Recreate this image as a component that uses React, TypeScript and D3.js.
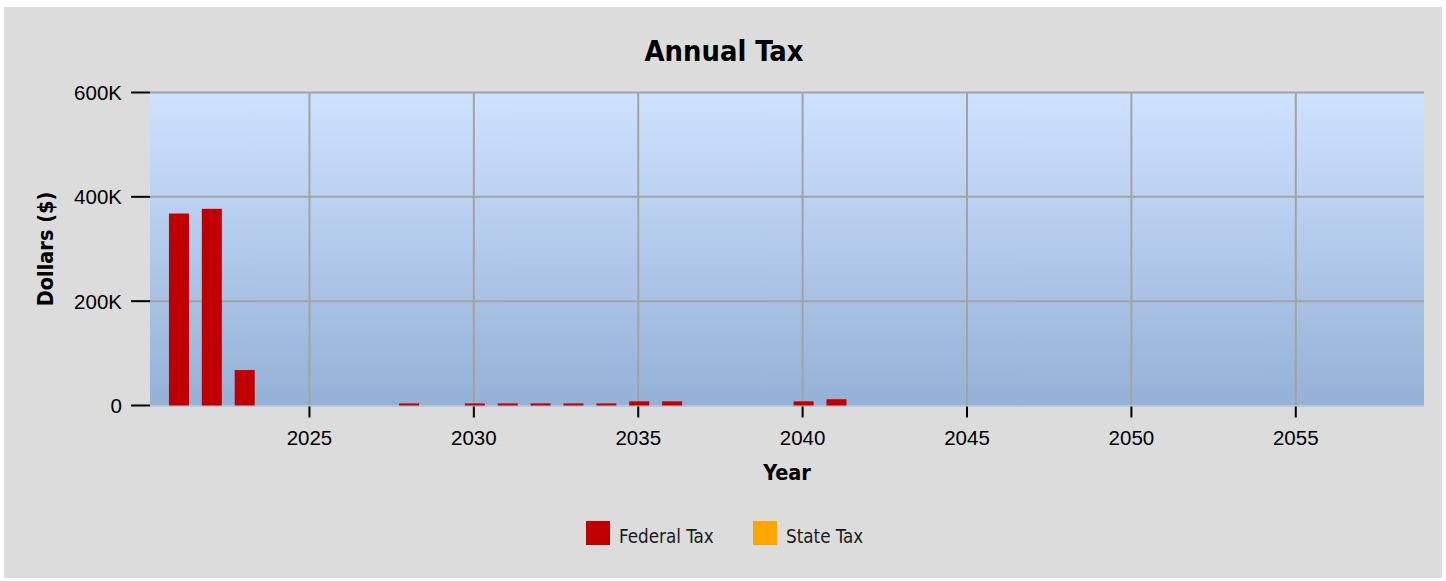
import React from "react";
import * as d3 from "d3";

const years: number[] = d3.range(2021, 2059);
const federalTaxK: number[] = [
  368, 377, 68, 0, 0, 0, 0, 4, 0, 4, 4, 4, 4, 4, 8, 8, 0, 0, 0, 8, 12,
  0, 0, 0, 0, 0, 0, 0, 0, 0, 0, 0, 0, 0, 0, 0, 0, 0,
];
const stateTaxK: number[] = years.map(() => 0);
const yTicks: number[] = [0, 200, 400, 600];
const xTicks: number[] = [2025, 2030, 2035, 2040, 2045, 2050, 2055];
const seriesNames = ["Federal Tax", "State Tax"];
const seriesColors = ["#c00000", "#ffa500"];

const W = 1446;
const H = 581;
const plot = { left: 150, right: 1424, top: 92.5, bottom: 405.5 };
const condensed = "'DejaVu Sans Condensed', 'DejaVu Sans', sans-serif";
const arial = "'Liberation Sans', Arial, sans-serif";

export default function App() {
  const x = d3.scaleLinear().domain([2020.15, 2058.9]).range([plot.left, plot.right]);
  const y = d3.scaleLinear().domain([0, 600]).range([plot.bottom, plot.top]);
  const barW = 20;

  const rows = years.map((yr, i) => ({ year: yr, federal: federalTaxK[i], state: stateTaxK[i] }));
  const stack = d3.stack<any>().keys(["federal", "state"])(rows);

  return (
    <div style={{ position: "absolute", left: 0, top: 0 }}>
      <svg width={W} height={H} style={{ display: "block" }}>
        <defs>
          <linearGradient id="bg" x1="0" y1="0" x2="0" y2="1">
            <stop offset="0" stopColor="#cee2fe" />
            <stop offset="1" stopColor="#95b1d7" />
          </linearGradient>
        </defs>
        <rect x={0} y={0} width={W} height={H} fill="#ffffff" />
        <rect x={4} y={7} width={1438} height={571} fill="#dcdcdc" />
        <rect
          x={plot.left}
          y={plot.top}
          width={plot.right - plot.left}
          height={plot.bottom - plot.top}
          fill="url(#bg)"
        />
        {/* grid */}
        {yTicks.filter((t) => t > 0).map((t) => (
          <line key={"gy" + t} x1={plot.left} x2={plot.right} y1={y(t)} y2={y(t)} stroke="#a3a3a3" strokeWidth={2} />
        ))}
        {xTicks.map((t) => (
          <line key={"gx" + t} x1={x(t)} x2={x(t)} y1={plot.top} y2={plot.bottom} stroke="#a3a3a3" strokeWidth={2} />
        ))}
        <line x1={plot.left} x2={plot.right} y1={plot.bottom + 0.5} y2={plot.bottom + 0.5} stroke="#b7c6da" strokeWidth={2} />
        {/* bars */}
        {stack.map((s, si) =>
          s.map((d, i) =>
            d[1] - d[0] > 0 ? (
              <rect
                key={si + "-" + i}
                x={x(rows[i].year) - barW / 2 + 1}
                y={y(d[1])}
                width={barW}
                height={y(d[0]) - y(d[1])}
                fill={seriesColors[si]}
              />
            ) : null
          )
        )}
        {/* y axis ticks */}
        {yTicks.map((t) => (
          <g key={"yt" + t}>
            <line x1={131} x2={plot.left} y1={y(t)} y2={y(t)} stroke="#000" strokeWidth={2} />
            <text x={122} y={y(t)} dy="0.36em" textAnchor="end" fontFamily={arial} fontSize={20.5} fill="#000">
              {t === 0 ? "0" : t + "K"}
            </text>
          </g>
        ))}
        {/* x axis ticks */}
        {xTicks.map((t) => (
          <g key={"xt" + t}>
            <line x1={x(t)} x2={x(t)} y1={plot.bottom + 1} y2={plot.bottom + 12} stroke="#000" strokeWidth={2} />
            <text x={x(t)} y={444.5} textAnchor="middle" fontFamily={arial} fontSize={20.5} fill="#000">
              {t}
            </text>
          </g>
        ))}
        {/* titles */}
        <text x={724} y={60.5} textAnchor="middle" fontFamily={condensed} fontWeight="bold" fontSize={28.8} fill="#000">
          Annual Tax
        </text>
        <text x={787} y={480} textAnchor="middle" fontFamily={condensed} fontWeight="bold" fontSize={21.5} fill="#000">
          Year
        </text>
        <text
          transform="translate(52.5,249) rotate(-90)"
          textAnchor="middle"
          fontFamily={condensed}
          fontWeight="bold"
          fontSize={21.5}
          fill="#000"
        >
          Dollars ($)
        </text>
        {/* legend */}
        {seriesNames.map((n, i) => {
          const lx = i === 0 ? 586 : 753;
          return (
            <g key={n}>
              <rect x={lx} y={521} width={24} height={24} fill={seriesColors[i]} />
              <text x={lx + 33} y={542.5} fontFamily={condensed} fontSize={18.7} fill="#1a1a1a">
                {n}
              </text>
            </g>
          );
        })}
      </svg>
    </div>
  );
}
